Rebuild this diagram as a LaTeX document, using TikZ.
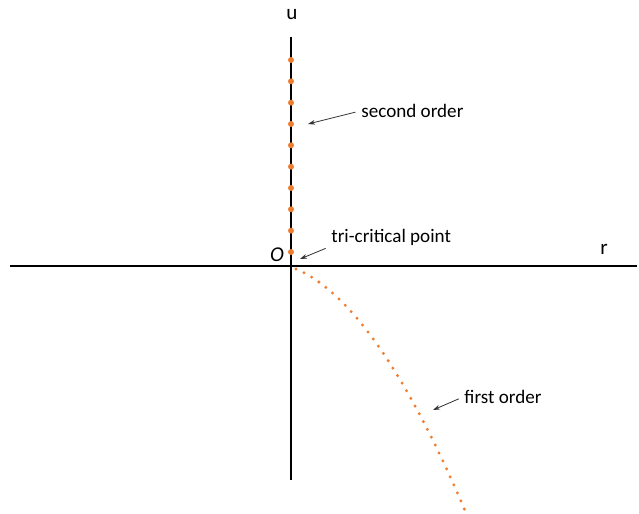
\documentclass[tikz,border=0pt]{standalone}
\usepackage{fontspec}
\setmainfont{Carlito}
\usetikzlibrary{arrows.meta}

\definecolor{phaseorange}{RGB}{237,125,49}

\tikzset{
  axisline/.style={black, line width=2pt},
  pointer/.style={-{Stealth[length=6pt,width=4pt]}, line width=0.7pt, black!80},
  labeltext/.style={font=\fontsize{16.3}{18}\selectfont, inner sep=1pt},
  axislabel/.style={font=\fontsize{18}{20}\selectfont, inner sep=1pt},
  firstline/.style={phaseorange, line width=2.8pt, line cap=round, dash pattern=on 0pt off 7.5pt}
}

\begin{document}
\begin{tikzpicture}[x=0.03cm, y=-0.03cm]
  \useasboundingbox (0,0) rectangle (639,514);

  % Axes
  \draw[axisline] (10,266) -- (637,266);
  \draw[axisline] (291,37) -- (291,480);
  \node[axislabel] (ulabel) at (292,15) {u};
  \node[axislabel] (rlabel) at (604,249) {r};
  \node[axislabel, font=\fontsize{18}{20}\selectfont\itshape] (origin) at (277,255) {O};

  % Second order line along the u axis
  \foreach \k in {0,...,9}{
    \fill[phaseorange] (291,{60+21.33*\k}) circle[radius=3];
  }

  % First order line
  \draw[firstline] (296,269) .. controls (349,291) and (407,373) .. (466,513);

  % Labels and pointers
  \node[labeltext, anchor=west] (second) at (360,111) {second order};
  \coordinate (secondhead) at (308,124);
  \draw[pointer, shorten <=4pt] (second.west) -- (secondhead);

  \node[labeltext, anchor=west] (tricrit) at (330,237) {tri-critical point};
  \coordinate (trihead) at (300,259);
  \draw[pointer, shorten <=4pt] (tricrit.south west) -- (trihead);

  \node[labeltext, anchor=west] (first) at (463,397) {first order};
  \coordinate (firsthead) at (433,410);
  \draw[pointer, shorten <=4pt] (first.west) -- (firsthead);
\end{tikzpicture}
\end{document}
